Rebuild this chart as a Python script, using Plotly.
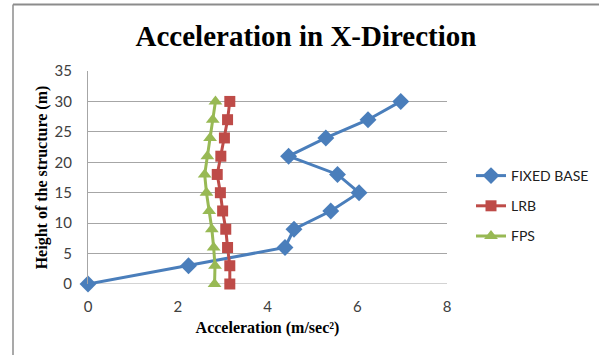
import plotly.graph_objects as go

# Storey heights (m) and peak floor accelerations (m/sec²)
heights = [0, 3, 6, 9, 12, 15, 18, 21, 24, 27, 30]
fixed_base = [0.0, 2.24, 4.39, 4.59, 5.41, 6.04, 5.56, 4.47, 5.30, 6.24, 6.97]
lrb = [3.16, 3.16, 3.11, 3.07, 3.00, 2.95, 2.88, 2.96, 3.04, 3.11, 3.16]
fps = [2.82, 2.83, 2.80, 2.76, 2.70, 2.64, 2.60, 2.66, 2.72, 2.78, 2.84]

x_ticks = [0, 2, 4, 6, 8]
y_ticks = [0, 5, 10, 15, 20, 25, 30, 35]

series = [
    ("FIXED BASE", fixed_base, "#4A7EBB", "diamond", 13),
    ("LRB", lrb, "#BE4B48", "square", 11),
    ("FPS", fps, "#98B954", "triangle-up", 12),
]

fig = go.Figure()
for name, vals, color, symbol, size in series:
    fig.add_trace(go.Scatter(
        x=vals, y=heights, name=name, legendgroup=name, mode="lines+markers",
        line=dict(color=color, width=3),
        marker=dict(symbol=symbol, size=size, color=color),
        cliponaxis=False,
    ))

grid = "#A6A6A6"
fig.update_layout(
    width=599, height=355,
    margin=dict(l=88, r=152, t=71, b=71, autoexpand=False),
    paper_bgcolor="white", plot_bgcolor="white",
    title=dict(text="<b>Acceleration in X-Direction</b>",
               font=dict(family="Liberation Serif", size=29, color="black"),
               x=306 / 599, xanchor="center", y=1 - 36 / 355, yanchor="middle"),
    xaxis=dict(range=[0, 8], tickvals=x_ticks, showgrid=False,
               showline=False, zeroline=False, ticks="", ticklen=0,
               ticklabelstandoff=12,
               tickfont=dict(family="Lato", size=15, color="#404040"),
               title=dict(text="<b>Acceleration (m/sec²)</b>",
                          font=dict(family="Liberation Serif", size=16, color="black"),
                          standoff=7)),
    yaxis=dict(range=[0, 35], tickvals=y_ticks, showgrid=True, gridcolor=grid,
               gridwidth=1, showline=True, linecolor=grid, linewidth=1,
               zeroline=False, ticks="", ticklabelstandoff=12,
               tickfont=dict(family="Lato", size=15, color="#404040"),
               title=dict(text="<b>Height of the structure (m)</b>",
                          font=dict(family="Liberation Serif", size=16, color="black"),
                          standoff=2)),
    legend=dict(x=(471 - 88) / 359, y=(284 - 160) / 213, xanchor="left", yanchor="top",
                font=dict(family="Lato", size=14, color="#202020"),
                tracegroupgap=9, itemwidth=30, bgcolor="rgba(0,0,0,0)"),
    showlegend=True,
)

# Bottom axis line drawn as a gridline-coloured rule at y = 0
fig.add_shape(type="line", xref="x", yref="y", x0=0, x1=8, y0=0, y1=0,
              line=dict(color=grid, width=1), layer="below")

# Chart frame: top and left edges
fig.add_shape(type="line", xref="paper", yref="paper",
              x0=(13 - 88) / 359, x1=(600 - 88) / 359,
              y0=(284 - 4.5) / 213, y1=(284 - 4.5) / 213,
              line=dict(color="#8C8C8C", width=2))
fig.add_shape(type="line", xref="paper", yref="paper",
              x0=(13 - 88) / 359, x1=(13 - 88) / 359,
              y0=(284 - 4.5) / 213, y1=(284 - 356) / 213,
              line=dict(color="#8C8C8C", width=1.5))

fig.write_html("out.html")
